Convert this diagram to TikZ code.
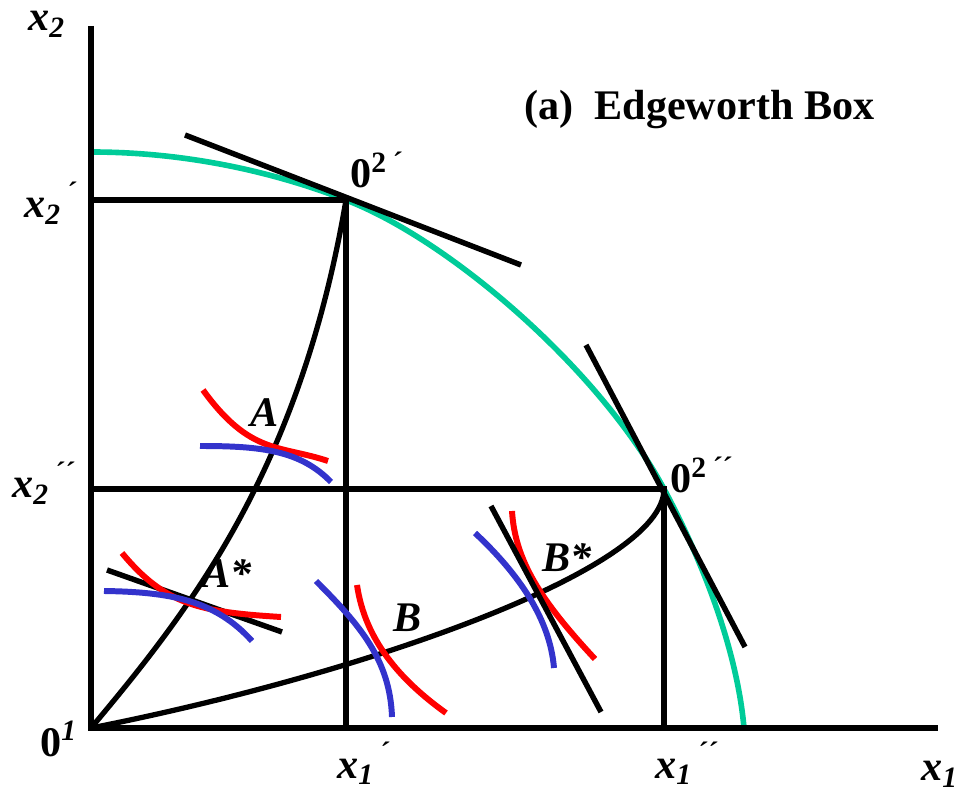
\documentclass[tikz,border=0pt]{standalone}
\usepackage{fontspec}
\setmainfont{Liberation Serif}
\usetikzlibrary{positioning}
\definecolor{frontier}{HTML}{00CC99}
\definecolor{indRed}{HTML}{FF0000}
\definecolor{indBlue}{HTML}{3333CC}

\begin{document}
\begin{tikzpicture}[
    x=0.02cm, y=-0.02cm,
    axis/.style={line width=3.4pt},
    boxline/.style={line width=3.2pt},
    contract/.style={line width=3pt},
    tangent/.style={line width=3.1pt},
    frontierline/.style={frontier, line width=3.2pt},
    redcurve/.style={indRed, line width=3.4pt},
    bluecurve/.style={indBlue, line width=3.4pt},
    varlab/.style={anchor=base west, inner sep=0pt,
                   font=\fontsize{24}{28}\selectfont\bfseries\itshape},
    originlab/.style={anchor=base west, inner sep=0pt,
                   font=\fontsize{24}{28}\selectfont\bfseries},
]
\useasboundingbox (0,0) rectangle (964,793);

\coordinate (O1)   at (91,728);
\coordinate (Ytop) at (91,26);
\coordinate (Xend) at (938,728);
\coordinate (O2a)  at (346,200);
\coordinate (O2b)  at (664,489);
\coordinate (Y2a)  at (91,200);
\coordinate (Y2b)  at (91,489);
\coordinate (X1a)  at (346,728);
\coordinate (X1b)  at (664,728);
\coordinate (Fstart) at (91,152);
\coordinate (Fend)   at (744,728);

\draw[frontierline] (Fstart) .. controls (200,152) and (290,178) .. (O2a)
    .. controls (450,240) and (600,370) .. (O2b)
    .. controls (710,575) and (738,660) .. (Fend);

\draw[axis] (Ytop) -- (O1) -- (Xend);
\draw[boxline] (Y2a) -- (O2a) -- (X1a);
\draw[boxline] (Y2b) -- (O2b) -- (X1b);

\draw[contract] (O1) .. controls (190,610) and (300,470) .. (O2a);
\draw[contract] (O1) .. controls (360,675) and (664,570) .. (O2b);

\coordinate (Ta1) at (185,135);
\coordinate (Ta2) at (521,265);
\coordinate (Tb1) at (586,345);
\coordinate (Tb2) at (745,647);
\draw[tangent] (Ta1) -- (Ta2);
\draw[tangent] (Tb1) -- (Tb2);

\draw[redcurve] (203,390) .. controls (250,455) and (280,445) .. (328,461);
\draw[bluecurve] (200,446) .. controls (260,446) and (300,450) .. (331,482);

\coordinate (TAs1) at (107,570);
\coordinate (TAs2) at (282,632);
\draw[tangent] (TAs1) -- (TAs2);
\draw[redcurve] (122,553) .. controls (165,605) and (200,612) .. (281,617);
\draw[bluecurve] (104,591) .. controls (170,592) and (215,600) .. (252,641);

\draw[bluecurve] (316,581) .. controls (360,625) and (390,660) .. (392,717);
\draw[redcurve] (357,585) .. controls (365,640) and (400,680) .. (446,713);

\coordinate (TBs1) at (491,506);
\coordinate (TBs2) at (601,712);
\draw[redcurve] (512,511) .. controls (515,560) and (540,600) .. (595,659);
\draw[bluecurve] (475,533) .. controls (520,575) and (550,620) .. (554,668);
\draw[tangent] (TBs1) -- (TBs2);

\node[varlab] (x2)   at (28,31)   {x\textsubscript{2}};
\node[varlab] (x2a)  at (24,218)  {x\textsubscript{2}\textsuperscript{\,´}};
\node[varlab] (x2b)  at (12,498)  {x\textsubscript{2}\textsuperscript{\,´´}};
\node[originlab] (o1) at (40,756) {0\textsuperscript{\itshape 1}};
\node[varlab] (x1a)  at (337,778) {x\textsubscript{1}\textsuperscript{\,´}};
\node[varlab] (x1b)  at (655,778) {x\textsubscript{1}\textsuperscript{\,´´}};
\node[varlab] (x1)   at (921,781) {x\textsubscript{1}};
\node[originlab] (o2a) at (350,188) {0\textsuperscript{2\,\itshape ´}};
\node[originlab] (o2b) at (670,493) {0\textsuperscript{2\,\itshape ´´}};
\node[varlab] (labA)  at (250,427) {A};
\node[varlab] (labAs) at (202,588) {A*};
\node[varlab] (labB)  at (393,632) {B};
\node[varlab] (labBs) at (542,572) {B*};
\node[originlab] (title) at (524,120) {(a)\ \ Edgeworth Box};
\end{tikzpicture}
\end{document}
